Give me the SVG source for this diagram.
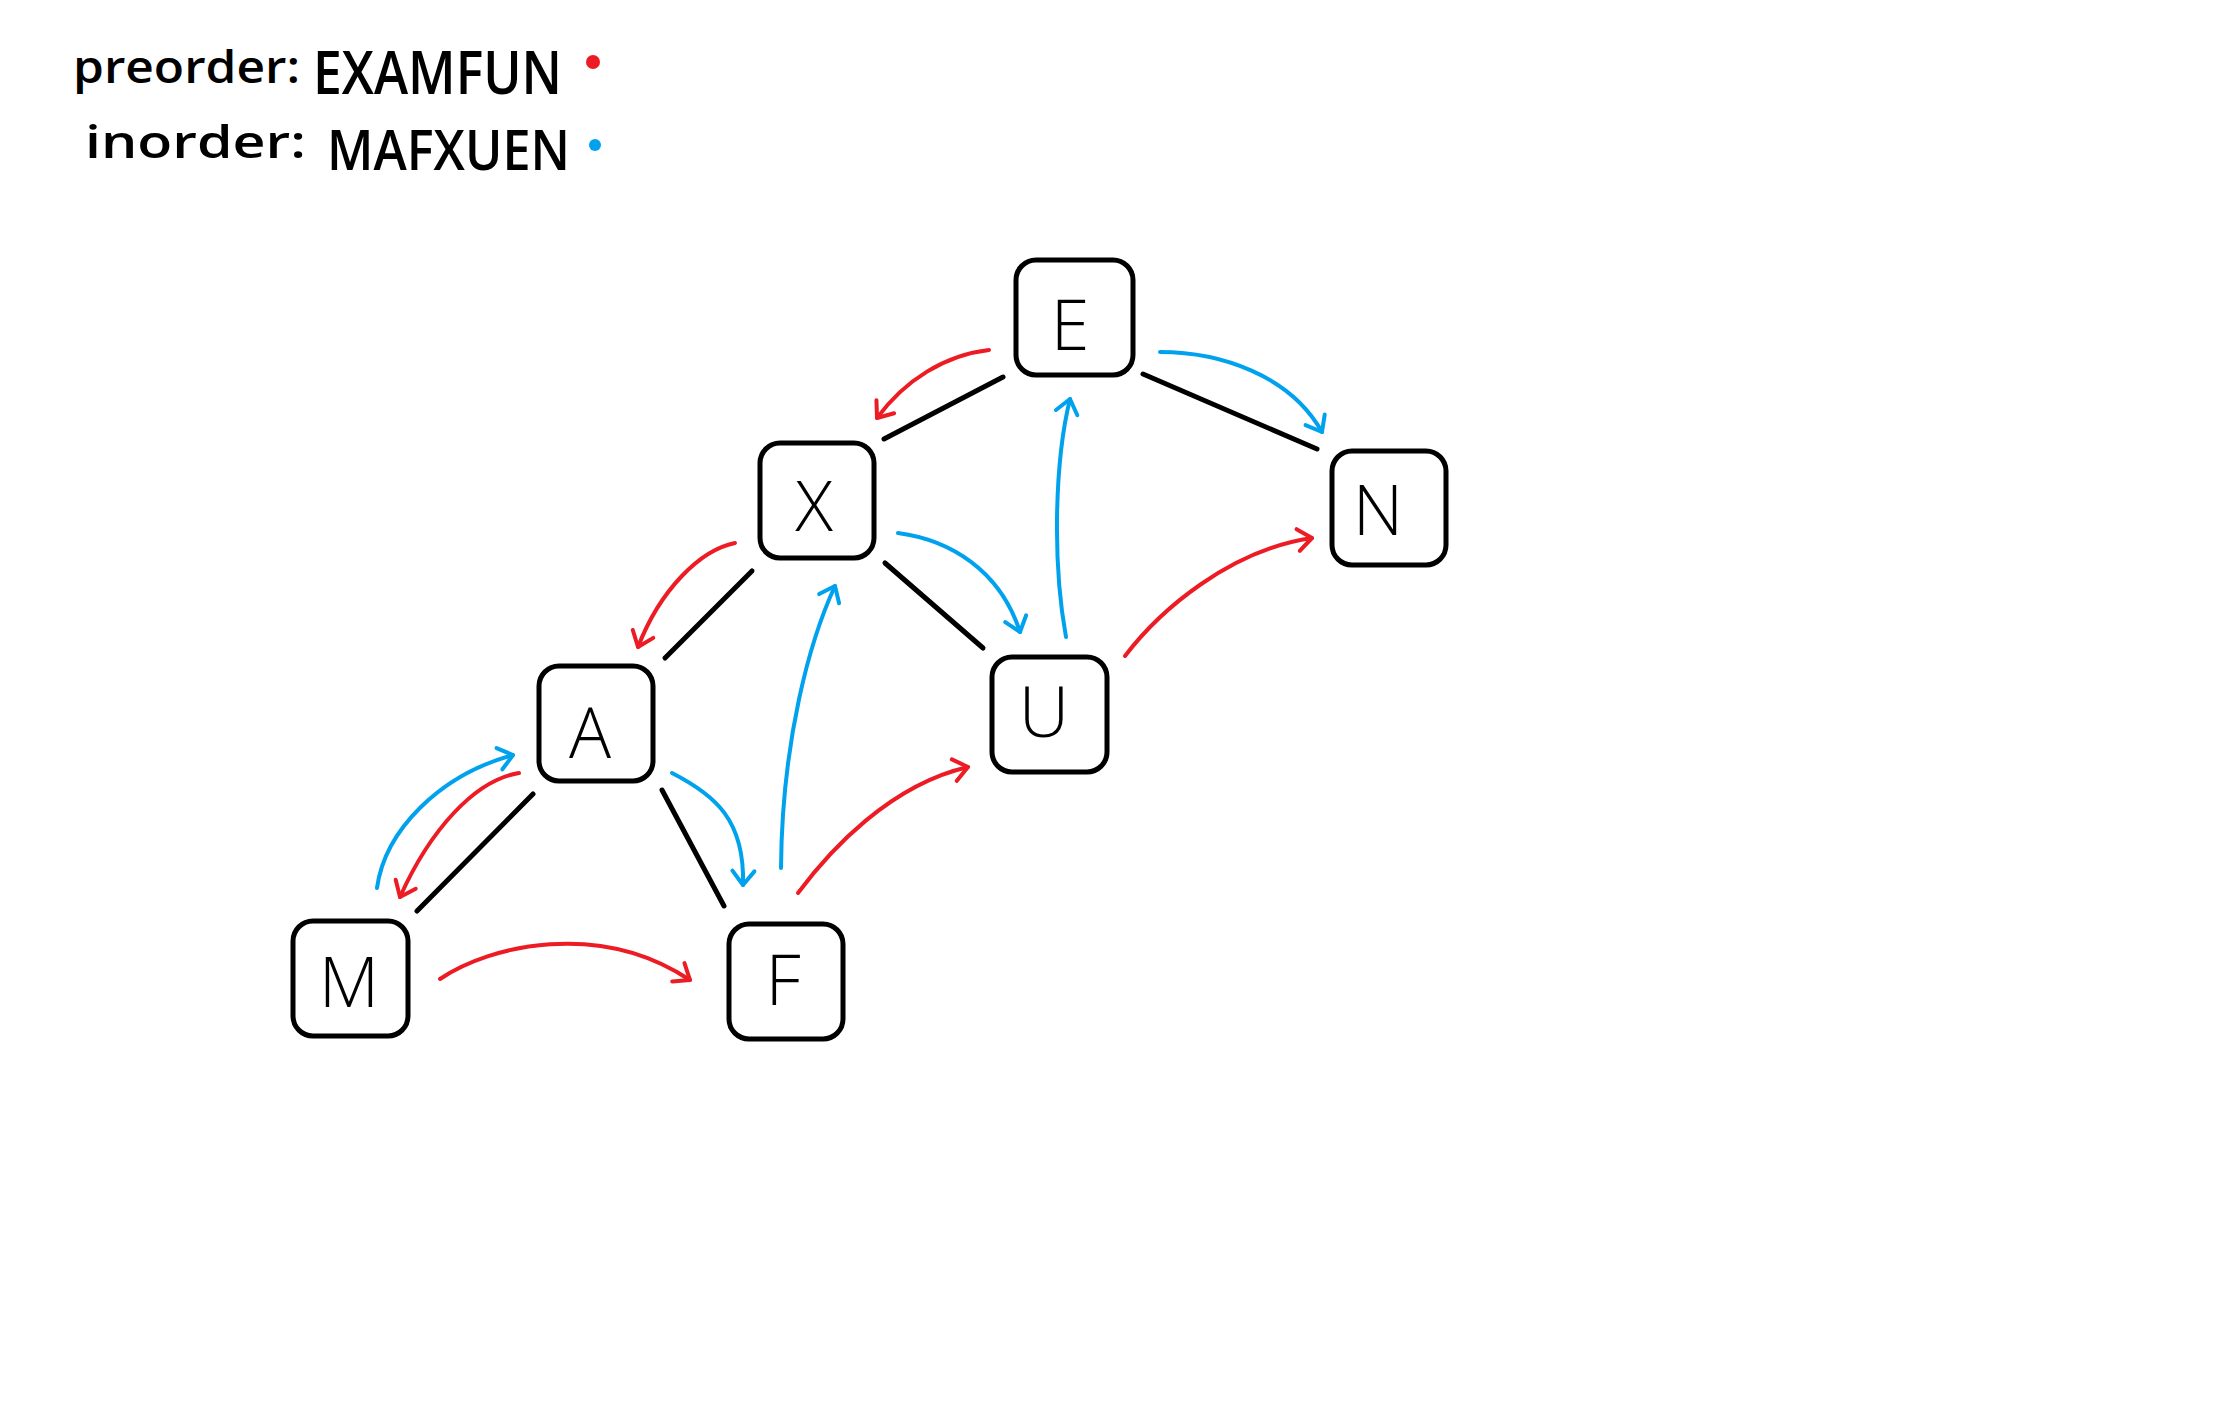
<svg xmlns="http://www.w3.org/2000/svg" width="2232" height="1408" viewBox="0 0 2232 1408">
<style>
.bg{fill:#ffffff}
.box{fill:#ffffff;stroke:#000000;stroke-width:5}
.lbl{font-family:"Open Sans","Liberation Sans",sans-serif;font-weight:300;font-size:70px;fill:#000000;text-anchor:middle}
.hdr{font-family:"Open Sans","Liberation Sans",sans-serif;font-weight:600;fill:#000000}
.edge{stroke:#000000;stroke-width:5;stroke-linecap:round;fill:none}
.pre{stroke:#ED1C24;stroke-width:4;stroke-linecap:round;stroke-linejoin:round;fill:none;marker-end:url(#headR)}
.in{stroke:#00A2ED;stroke-width:4;stroke-linecap:round;stroke-linejoin:round;fill:none;marker-end:url(#headB)}
</style>
<defs>
<marker id="headR" markerUnits="userSpaceOnUse" viewBox="-20 -16 24 32" refX="0" refY="0" markerWidth="24" markerHeight="32" orient="auto" overflow="visible">
<path d="M-14,-11 L0,0 L-14,11" fill="none" stroke="#ED1C24" stroke-width="4" stroke-linecap="round" stroke-linejoin="round"/>
</marker>
<marker id="headB" markerUnits="userSpaceOnUse" viewBox="-20 -16 24 32" refX="0" refY="0" markerWidth="24" markerHeight="32" orient="auto" overflow="visible">
<path d="M-14,-11 L0,0 L-14,11" fill="none" stroke="#00A2ED" stroke-width="4" stroke-linecap="round" stroke-linejoin="round"/>
</marker>
</defs>
<rect class="bg" x="0" y="0" width="2232" height="1408"/>

<g id="legend">
<text class="hdr"><tspan x="73" y="83" font-size="46" textLength="227" lengthAdjust="spacingAndGlyphs">preorder:</tspan><tspan x="313" y="94" font-size="60" textLength="249" lengthAdjust="spacingAndGlyphs">EXAMFUN</tspan></text>
<circle cx="593" cy="62" r="7" fill="#ED1C24"/>
<text class="hdr"><tspan x="85" y="158" font-size="46" textLength="221" lengthAdjust="spacingAndGlyphs">inorder:</tspan> <tspan x="327" y="170" font-size="56" textLength="243" lengthAdjust="spacingAndGlyphs">MAFXUEN</tspan></text>
<circle cx="595" cy="145" r="6" fill="#00A2ED"/>
</g>

<g id="connectors">
<line class="edge" x1="1003" y1="377" x2="884" y2="439"/>
<line class="edge" x1="1143" y1="374" x2="1317" y2="449"/>
<line class="edge" x1="752" y1="571" x2="665" y2="658"/>
<line class="edge" x1="885" y1="563" x2="983" y2="648"/>
<line class="edge" x1="533" y1="794" x2="417" y2="911"/>
<line class="edge" x1="662" y1="790" x2="724" y2="906"/>

<path class="pre" d="M989,350 C945,355 905,380 877,418"/>
<path class="pre" d="M735,543 C700,550 660,590 638,647"/>
<path class="pre" d="M519,773 C475,780 430,830 400,897"/>
<path class="pre" d="M440,979 C490,945 600,920 690,980"/>
<path class="pre" d="M798,893 C830,850 890,785 968,767"/>
<path class="pre" d="M1125,656 C1160,610 1230,550 1312,538"/>

<path class="in" d="M377,888 C385,830 440,775 513,755"/>
<path class="in" d="M672,773 C715,795 745,820 743,885"/>
<path class="in" d="M781,868 C782,740 810,640 835,586"/>
<path class="in" d="M898,533 C950,540 1000,570 1020,632"/>
<path class="in" d="M1066,637 C1052,560 1055,460 1070,399"/>
<path class="in" d="M1160,352 C1220,352 1290,375 1322,432"/>
</g>

<g id="node-E"><rect class="box" x="1016" y="260" width="117" height="115" rx="20"/><text class="lbl" x="1070" y="350">E</text></g>
<g id="node-X"><rect class="box" x="760" y="443" width="114" height="115" rx="20"/><text class="lbl" x="814" y="531">X</text></g>
<g id="node-N"><rect class="box" x="1332" y="451" width="114" height="114" rx="20"/><text class="lbl" x="1378" y="535">N</text></g>
<g id="node-A"><rect class="box" x="539" y="666" width="114" height="115" rx="20"/><text class="lbl" x="590" y="758">A</text></g>
<g id="node-U"><rect class="box" x="992" y="657" width="115" height="115" rx="20"/><text class="lbl" x="1044" y="737">U</text></g>
<g id="node-M"><rect class="box" x="293" y="921" width="115" height="115" rx="20"/><text class="lbl" x="349" y="1007">M</text></g>
<g id="node-F"><rect class="box" x="729" y="924" width="114" height="115" rx="20"/><text class="lbl" x="783" y="1005">F</text></g>
</svg>
